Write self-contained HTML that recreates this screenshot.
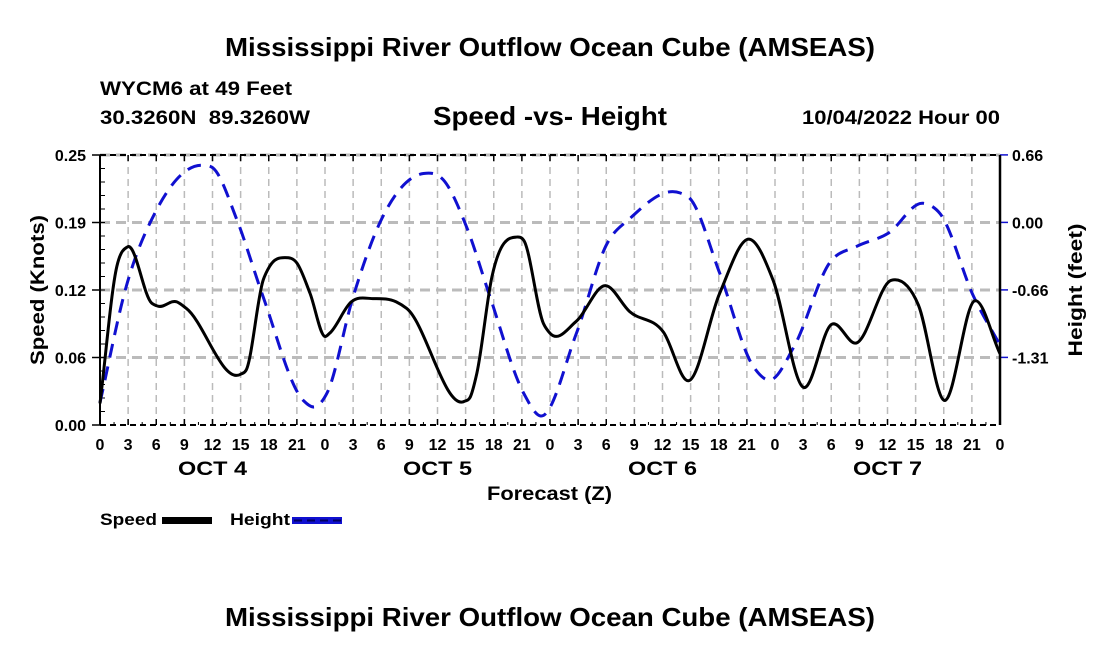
<!DOCTYPE html>
<html><head><meta charset="utf-8"><style>
body{margin:0;background:#fff;}
svg{display:block;font-family:"Liberation Sans",Arial,sans-serif;font-weight:bold;}
</style></head><body>
<svg id="chart" width="1100" height="650" viewBox="0 0 1100 650">
<rect width="1100" height="650" fill="#fff"/>
<text x="225" y="56" font-size="26" textLength="650" lengthAdjust="spacingAndGlyphs">Mississippi River Outflow Ocean Cube (AMSEAS)</text>
<text x="100" y="95" font-size="19" textLength="192" lengthAdjust="spacingAndGlyphs">WYCM6 at 49 Feet</text>
<text x="100" y="124" font-size="19" textLength="210" lengthAdjust="spacingAndGlyphs" xml:space="preserve">30.3260N  89.3260W</text>
<text x="433" y="125" font-size="26" textLength="234" lengthAdjust="spacingAndGlyphs">Speed -vs- Height</text>
<text x="802" y="124" font-size="19" textLength="198" lengthAdjust="spacingAndGlyphs">10/04/2022 Hour 00</text>
<g id="grid"></g>
<g id="axes"></g>
<g id="series"></g>
<text x="487" y="500" font-size="19" textLength="125" lengthAdjust="spacingAndGlyphs">Forecast (Z)</text>
<text transform="translate(44,290) rotate(-90)" font-size="19" text-anchor="middle" textLength="150" lengthAdjust="spacingAndGlyphs">Speed (Knots)</text>
<text transform="translate(1082,290) rotate(-90)" font-size="19" text-anchor="middle" textLength="133" lengthAdjust="spacingAndGlyphs">Height (feet)</text>
<g>
<text x="100" y="525" font-size="17" textLength="57" lengthAdjust="spacingAndGlyphs">Speed</text>
<rect x="162" y="517" width="50" height="7" fill="#000"/>
<text x="230" y="525" font-size="17" textLength="60" lengthAdjust="spacingAndGlyphs">Height</text>
<rect x="292" y="517" width="50" height="7" fill="#1010d0"/>
<line x1="294" y1="520.5" x2="342" y2="520.5" stroke="#000060" stroke-width="2" stroke-dasharray="8,5"/>
</g>
<text x="225" y="626" font-size="26" textLength="650" lengthAdjust="spacingAndGlyphs">Mississippi River Outflow Ocean Cube (AMSEAS)</text>
</svg>
<script>
const speedHours=[0,1.8,2.95,5.5,6.2,8.2,9.2,15.0,15.6,17.4,18.1,19.7,21,22.4,24,24.5,26.8,29.2,31.6,32.7,38.9,39.5,40.2,41.8,44.4,45.2,47.3,48.0,50.8,53.9,56.5,60.1,62.8,66.1,69.3,71.8,75.0,78.0,80.7,84.4,87.3,90.0,93.3,96];
const speedValues=[0.020,0.147,0.165,0.113,0.110,0.114,0.108,0.047,0.051,0.134,0.147,0.155,0.150,0.122,0.082,0.085,0.114,0.117,0.114,0.108,0.022,0.026,0.048,0.137,0.174,0.171,0.094,0.085,0.096,0.129,0.105,0.086,0.041,0.122,0.172,0.134,0.035,0.093,0.076,0.134,0.111,0.023,0.115,0.066];
const heightHours=[0,2.8,6,11,12.1,14.6,17.4,21.7,23,24.2,27,29.9,34.5,36.6,39.1,41.6,45.2,47,50.8,54.1,56.5,61.9,62.9,66.1,69.7,71.5,74,77.9,80.7,84.1,87.8,89.6,93.2,96];
const heightValues=[-1.75,-0.62,0.12,0.56,0.53,0.03,-0.72,-1.73,-1.79,-1.66,-0.72,0.01,0.48,0.42,-0.04,-0.72,-1.66,-1.88,-1.08,-0.20,0.04,0.29,0.24,-0.49,-1.40,-1.53,-1.21,-0.38,-0.23,-0.10,0.19,0.09,-0.72,-1.19];
const speedTicks=["0.00","0.06","0.12","0.19","0.25"];
const heightTicks=["-1.31","-0.66","0.00","0.66"];
const dayLabels=["OCT 4","OCT 5","OCT 6","OCT 7"];

const X0=100,X1=1000,Y0=425,Y1=155;
const xs=h=>X0+(h/96)*(X1-X0);
const ys=v=>Y0-(v/0.25)*(Y0-Y1);
const hMin=0.66-4*0.657,hMax=0.66;
const yh=v=>Y0-((v-hMin)/(hMax-hMin))*(Y0-Y1);
const NS="http://www.w3.org/2000/svg";
function mk(tag,attrs,parent){const e=document.createElementNS(NS,tag);for(const k in attrs)e.setAttribute(k,attrs[k]);parent.appendChild(e);return e;}
const grid=document.getElementById('grid'),axes=document.getElementById('axes'),series=document.getElementById('series');
for(let i=0;i<=32;i++){const x=xs(i*3);
 if(i>0&&i<32){const l=mk('line',{x1:x,y1:Y1,x2:x,y2:Y0,stroke:'#bbb','stroke-width':1.5,'stroke-dasharray':'7,5'},grid);
 
 }
 const t=mk('text',{x:x,y:450,'font-size':16,'text-anchor':'middle'},axes);t.textContent=String((i*3)%24);
 
 
 mk('line',{x1:x,y1:Y0,x2:x,y2:Y0-6,stroke:'#000','stroke-width':1.5},axes);
 mk('line',{x1:x,y1:Y1,x2:x,y2:Y1+6,stroke:'#000','stroke-width':1.5},axes);
}
dayLabels.forEach((d,i)=>{const t=mk('text',{x:xs(12+24*i),y:475,'font-size':19,'text-anchor':'middle',textLength:69,lengthAdjust:'spacingAndGlyphs'},axes);t.textContent=d;
 
 });
speedTicks.forEach((s,i)=>{const v=i*0.0625,y=ys(v);
 if(i>0){const l=mk('line',{x1:X0,y1:y,x2:X1,y2:y,stroke:'#bbb','stroke-width':3,'stroke-dasharray':'10,6'},grid);
 
 }
 const t=mk('text',{x:86,y:y+6,'font-size':16,'text-anchor':'end'},axes);t.textContent=s;
 
 
 mk('line',{x1:X0-8,y1:y,x2:X0,y2:y,stroke:'#000','stroke-width':1.5},axes);
});
for(let i=0;i<=20;i++){const y=ys(i*0.0125);mk('line',{x1:X0,y1:y,x2:X0+5,y2:y,stroke:'#000','stroke-width':1},axes);}
heightTicks.forEach((s,i)=>{const v=-1.31+i*0.657,y=yh(v);
 const t=mk('text',{x:1012,y:y+6,'font-size':16},axes);t.textContent=s;
 
 
 mk('line',{x1:X1,y1:y,x2:X1+8,y2:y,stroke:'#1010d0','stroke-width':1.5},axes);
});
for(let h=0;h<=96;h+=1.5){mk('line',{x1:xs(h),y1:Y0,x2:xs(h),y2:Y0-3,stroke:'#000'},axes);}
mk('line',{x1:X0,y1:Y0,x2:X1,y2:Y0,stroke:'#000','stroke-width':2,'stroke-dasharray':'6,4'},axes);
mk('line',{x1:X0,y1:Y1,x2:X1,y2:Y1,stroke:'#000','stroke-width':2,'stroke-dasharray':'6,4'},axes);
mk('line',{x1:X0,y1:Y1,x2:X0,y2:Y0,stroke:'#000','stroke-width':2},axes);
mk('line',{x1:X1,y1:Y1,x2:X1,y2:Y0,stroke:'#000','stroke-width':2.5},axes);
// x-monotone cubic Hermite (no loops)
function smooth(pts){const n=pts.length,m=[];
 for(let i=0;i<n;i++){
  if(i===0)m.push((pts[1][1]-pts[0][1])/(pts[1][0]-pts[0][0]));
  else if(i===n-1)m.push((pts[n-1][1]-pts[n-2][1])/(pts[n-1][0]-pts[n-2][0]));
  else{const d0=(pts[i][1]-pts[i-1][1])/(pts[i][0]-pts[i-1][0]),d1=(pts[i+1][1]-pts[i][1])/(pts[i+1][0]-pts[i][0]);
   const h0=pts[i][0]-pts[i-1][0],h1=pts[i+1][0]-pts[i][0];
   m.push((d0*h1+d1*h0)/(h0+h1));}
 }
 let d='M'+pts[0][0]+','+pts[0][1];
 for(let i=0;i<n-1;i++){const dx=(pts[i+1][0]-pts[i][0])/3;
  d+=` C${pts[i][0]+dx},${pts[i][1]+m[i]*dx} ${pts[i+1][0]-dx},${pts[i+1][1]-m[i+1]*dx} ${pts[i+1][0]},${pts[i+1][1]}`;}
 return d;}
const hp=mk('path',{d:smooth(heightHours.map((h,i)=>[xs(h),yh(heightValues[i])])),fill:'none',stroke:'#1010d0','stroke-width':3,'stroke-dasharray':'14,9'},series);


const sp=mk('path',{d:smooth(speedHours.map((h,i)=>[xs(h),ys(speedValues[i])])),fill:'none',stroke:'#000','stroke-width':3,'stroke-linejoin':'round'},series);


</script>
</body></html>
